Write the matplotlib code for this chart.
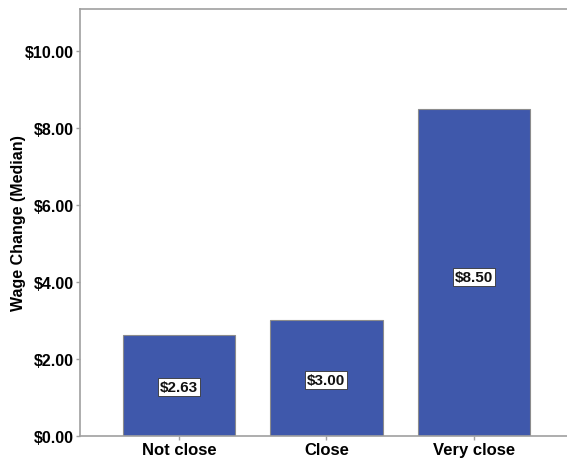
import matplotlib.pyplot as plt
import numpy as np

categories = ['Not close', 'Close', 'Very close']
medians = [2.63, 3.00, 8.50]
yticks = [0, 2, 4, 6, 8, 10]

plt.rcParams['font.family'] = ['Liberation Sans', 'DejaVu Sans']
plt.rcParams['font.weight'] = 'bold'

fig = plt.figure(figsize=(5.67, 4.6), dpi=100)
ax = fig.add_axes([80 / 567, 1 - 437 / 460, 1 - 80 / 567, (437 - 10) / 460])

x = np.arange(len(categories))
ax.bar(x, medians, width=0.76, color='#3F58AB', edgecolor='#8C8C8C', linewidth=0.8, zorder=2)

# value labels sit just under the middle of each bar
for xi, v in zip(x, medians):
    ax.text(xi, v * 0.485, '${:.2f}'.format(v), ha='center', va='center', fontsize=11,
            fontweight='bold', color='#111111',
            bbox=dict(boxstyle='square,pad=0.12', facecolor='white', edgecolor='#333333', linewidth=0.6))

ax.set_xlim(-0.67, 2.63)
ax.set_ylim(0, 11.09)
ax.set_xticks(x)
ax.set_xticklabels(categories, fontsize=12, fontweight='bold')
ax.set_yticks(yticks)
ax.set_yticklabels(['${:.2f}'.format(t) for t in yticks], fontsize=11.5, fontweight='bold')
ax.set_ylabel('Wage Change (Median)', fontsize=11.5, fontweight='bold')
ax.yaxis.set_label_coords(-0.11, 0.5)

for s in ['left', 'bottom', 'top']:
    ax.spines[s].set_color('#A0A0A0')
    ax.spines[s].set_linewidth(1.2)
ax.spines['right'].set_visible(False)
ax.tick_params(axis='y', color='#A0A0A0', length=3, width=1, pad=1.5)
ax.tick_params(axis='x', color='#A0A0A0', length=3, width=1, pad=1.5)

fig.savefig('out.png', dpi=100)
